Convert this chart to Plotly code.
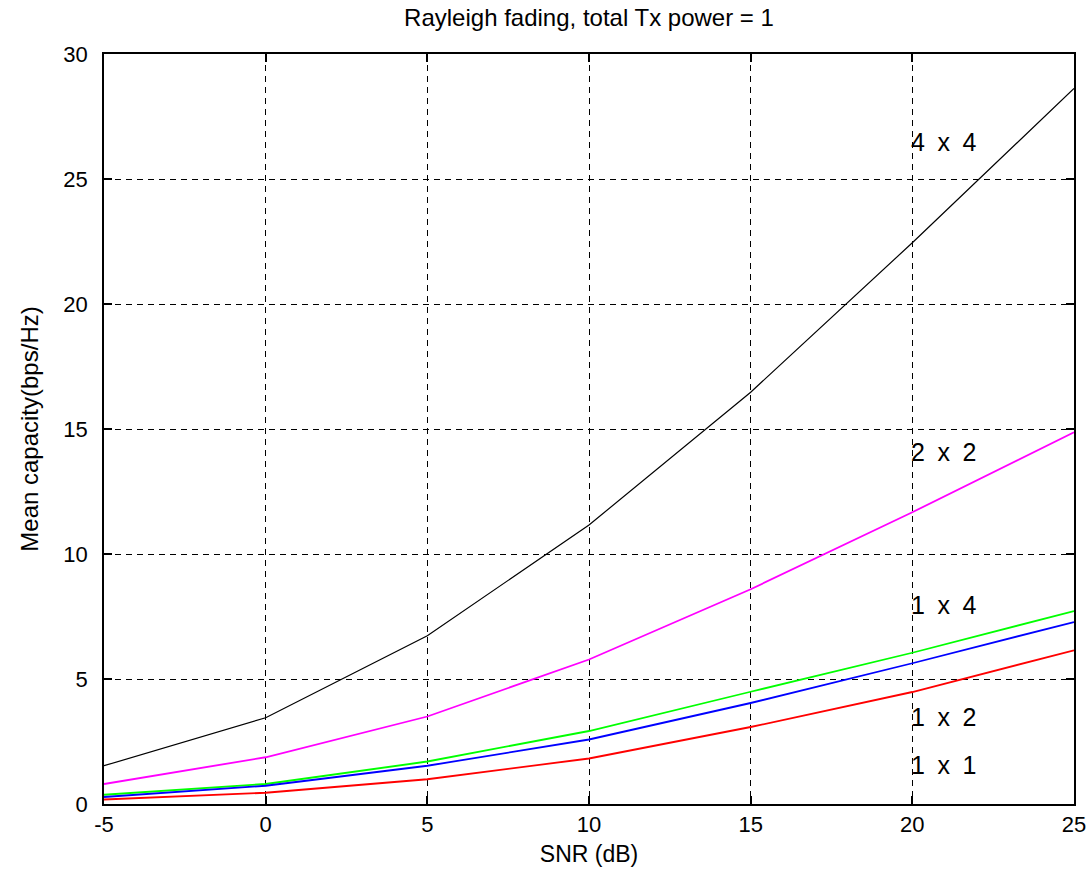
import plotly.graph_objects as go

snr_db = [-5, 0, 5, 10, 15, 20, 25]
cap_4x4 = [1.53, 3.45, 6.73, 11.16, 16.47, 22.45, 28.62]
cap_2x2 = [0.80, 1.87, 3.50, 5.78, 8.59, 11.67, 14.87]
cap_1x4 = [0.37, 0.80, 1.70, 2.92, 4.49, 6.05, 7.72]
cap_1x2 = [0.28, 0.73, 1.53, 2.58, 4.04, 5.63, 7.28]
cap_1x1 = [0.18, 0.45, 0.99, 1.82, 3.08, 4.48, 6.15]

x_ticks = [-5, 0, 5, 10, 15, 20, 25]
x_ticktext = ["-5", "0", "5", "10", "15", "20", "25"]
y_ticks = [0, 5, 10, 15, 20, 25, 30]
y_ticktext = ["0", "5", "10", "15", "20", "25", "30"]

series = [
    ("4 x 4", cap_4x4, "#000000", 26.5, 1.2),
    ("2 x 2", cap_2x2, "#ff00ff", 14.1, 1.8),
    ("1 x 4", cap_1x4, "#00ff00", 7.95, 1.8),
    ("1 x 2", cap_1x2, "#0000ff", 3.5, 1.8),
    ("1 x 1", cap_1x1, "#ff0000", 1.55, 1.8),
]
label_x = 20

FONT = "Liberation Sans, Arial, sans-serif"

fig = go.Figure()
for name, ys, color, ly, lw in series:
    fig.add_trace(go.Scatter(x=snr_db, y=ys, mode="lines", name=name,
                             line=dict(color=color, width=lw), showlegend=False))
    fig.add_annotation(x=label_x, y=ly, text=name.replace(" ", "\u2002"), showarrow=False,
                       xanchor="left", yanchor="middle", xshift=-3,
                       font=dict(family=FONT, size=25, color="#000000"))

axis_common = dict(
    showline=True, linecolor="#000000", linewidth=1.6, mirror="ticks",
    ticks="inside", ticklen=8, tickcolor="#000000", tickwidth=1.6,
    showgrid=True, gridcolor="#000000", gridwidth=1.2, griddash="6px,5px",
    zeroline=False, automargin=False,
    tickfont=dict(family=FONT, size=22, color="#000000"),
)

fig.update_xaxes(range=[-5, 25], tickvals=x_ticks, ticktext=x_ticktext,
                 ticklabelstandoff=0,
                 title=dict(text="SNR (dB)", font=dict(family=FONT, size=23, color="#000000"), standoff=10),
                 **axis_common)
fig.update_yaxes(range=[0, 30], tickvals=y_ticks, ticktext=y_ticktext,
                 ticklabelstandoff=10,
                 title=dict(text="Mean capacity(bps/Hz)", font=dict(family=FONT, size=24, color="#000000"), standoff=18),
                 **axis_common)

fig.update_layout(
    width=1091, height=883,
    margin=dict(l=104, r=17, t=54, b=79),
    paper_bgcolor="#ffffff", plot_bgcolor="#ffffff",
    title=dict(text="Rayleigh fading, total Tx power = 1", xref="paper", x=0.5, xanchor="center",
               yref="container", y=1 - 18 / 883, yanchor="middle",
               font=dict(family=FONT, size=24, color="#000000")),
)

fig.write_html("out.html", config={"displayModeBar": False},
               post_script="document.body.style.margin='0';document.body.style.overflow='hidden';")
